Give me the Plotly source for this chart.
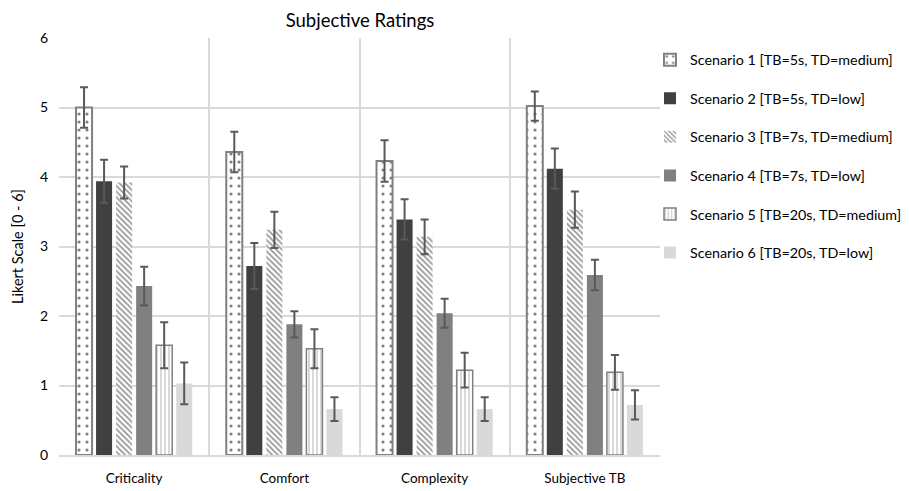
import plotly.graph_objects as go

categories = ["Criticality", "Comfort", "Complexity", "Subjective TB"]

scenario_names = [
    "Scenario 1 [TB=5s, TD=medium]",
    "Scenario 2 [TB=5s, TD=low]",
    "Scenario 3 [TB=7s, TD=medium]",
    "Scenario 4 [TB=7s, TD=low]",
    "Scenario 5 [TB=20s, TD=medium]",
    "Scenario 6 [TB=20s, TD=low]",
]

# mean ratings per scenario (order: Criticality, Comfort, Complexity, Subjective TB)
s1_mean = [5.00, 4.36, 4.23, 5.02]
s2_mean = [3.94, 2.72, 3.39, 4.12]
s3_mean = [3.92, 3.24, 3.14, 3.53]
s4_mean = [2.43, 1.88, 2.04, 2.59]
s5_mean = [1.58, 1.53, 1.22, 1.19]
s6_mean = [1.03, 0.66, 0.66, 0.72]

# standard errors
s1_err = [0.29, 0.29, 0.30, 0.21]
s2_err = [0.31, 0.33, 0.29, 0.29]
s3_err = [0.23, 0.26, 0.25, 0.26]
s4_err = [0.28, 0.19, 0.21, 0.22]
s5_err = [0.33, 0.28, 0.25, 0.25]
s6_err = [0.30, 0.17, 0.17, 0.21]

means = [s1_mean, s2_mean, s3_mean, s4_mean, s5_mean, s6_mean]
errors = [s1_err, s2_err, s3_err, s4_err, s5_err, s6_err]

styles = [
    dict(color="white", line=dict(color="#808080", width=2),
         pattern=dict(shape=".", fgcolor="#000000", bgcolor="white", size=8, solidity=0.12)),
    dict(color="#404040", line=dict(width=0)),
    dict(color="white", line=dict(width=0),
         pattern=dict(shape="\\", fgcolor="#303030", bgcolor="white", size=4, solidity=0.45)),
    dict(color="#808080", line=dict(width=0)),
    dict(color="white", line=dict(color="#808080", width=1.5),
         pattern=dict(shape="|", fgcolor="#808080", bgcolor="white", size=4, solidity=0.3)),
    dict(color="#d9d9d9", line=dict(width=0)),
]

fig = go.Figure()
for i, (name, m, e, st) in enumerate(zip(scenario_names, means, errors, styles)):
    fig.add_trace(go.Bar(
        x=categories, y=m, name=name, legendgroup=f"g{i}",
        marker=st,
        error_y=dict(type="data", array=e, visible=True,
                     color="#595959", thickness=2, width=4),
    ))

fig.update_layout(
    width=909, height=491,
    margin=dict(l=59, r=249, t=38, b=36, autoexpand=False),
    paper_bgcolor="white", plot_bgcolor="white",
    barmode="group", bargap=0.2, bargroupgap=0.2,
    font=dict(family="Lato", size=13, color="#404040"),
    title=dict(text="Subjective Ratings", x=(59 + 301) / 909, xanchor="center",
               y=1 - 21 / 491, yanchor="middle",
               font=dict(family="Lato", size=18.5, color="#000000")),
    legend=dict(x=1 + (650 - 660) / 601, y=0.986, xanchor="left", yanchor="top",
                font=dict(family="Lato", size=14.3, color="#000000"),
                traceorder="grouped", tracegroupgap=17,
                itemwidth=30, bgcolor="rgba(0,0,0,0)"),
    showlegend=True,
)

fig.update_xaxes(
    type="category", tickson="boundaries", showgrid=True,
    gridcolor="#d9d9d9", gridwidth=2, showline=True, linecolor="#d9d9d9",
    linewidth=2, ticks="", ticklabelstandoff=10,
    tickfont=dict(family="Lato", size=13.5, color="#000000"),
)
fig.update_yaxes(
    range=[0, 6], dtick=1, showgrid=True, gridcolor="#d9d9d9", gridwidth=2,
    zeroline=False, ticks="", ticklabelstandoff=10,
    tickfont=dict(family="Lato", size=14, color="#000000"),
    title=dict(text="Likert Scale [0 - 6]", font=dict(family="Lato", size=14.5, color="#000000"),
               standoff=12),
)

fig.write_html("out.html")
